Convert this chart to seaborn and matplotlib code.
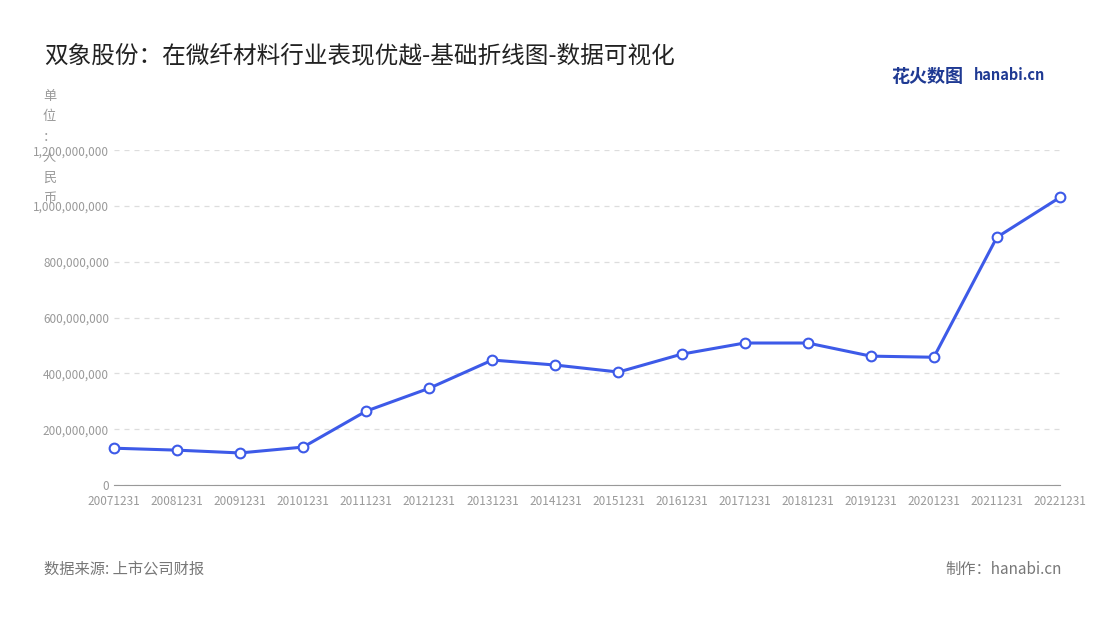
import matplotlib
matplotlib.use("Agg")
import matplotlib.pyplot as plt
import seaborn as sns
import pandas as pd
from matplotlib.ticker import FuncFormatter

sns.set_style("white")
plt.rcParams['font.family'] = ['Noto Sans CJK SC', 'DejaVu Sans']

dates = ["20071231", "20081231", "20091231", "20101231", "20111231", "20121231",
         "20131231", "20141231", "20151231", "20161231", "20171231", "20181231",
         "20191231", "20201231", "20211231", "20221231"]
revenue = [132e6, 125e6, 115e6, 136e6, 265e6, 347e6, 448e6, 430e6, 405e6,
           469e6, 509e6, 509e6, 462e6, 458e6, 888e6, 1031e6]

df = pd.DataFrame({"date": dates, "revenue": revenue})

fig = plt.figure(figsize=(11, 6.2), dpi=100)
ax = fig.add_axes([0.1036, 0.2177, 0.86, 0.54])

sns.lineplot(data=df, x="date", y="revenue", ax=ax, color="#3d5ae8", linewidth=2.2,
             marker="o", markersize=7, markerfacecolor="white",
             markeredgecolor="#3d5ae8", markeredgewidth=1.5, sort=False, clip_on=False)

ax.set_xlim(0, len(dates) - 1)
ax.set_ylim(0, 1.2e9)
ax.set_yticks([i * 2e8 for i in range(7)])
ax.yaxis.set_major_formatter(FuncFormatter(lambda v, p: f"{int(v):,}"))
ax.grid(axis="y", linestyle=(0, (4, 4)), color="#dddddd", linewidth=0.9)
for s in ["top", "right", "left"]:
    ax.spines[s].set_visible(False)
ax.spines["bottom"].set_color("#999999")
ax.tick_params(axis="both", labelsize=8.5, colors="#999999", length=0)
ax.tick_params(axis="x", length=4, color="#999999")
ax.set_xlabel("")
ax.set_ylabel("")

fig.text(0.04, 0.9, "双象股份：在微纤材料行业表现优越-基础折线图-数据可视化",
         fontsize=17, color="#222222")
fig.text(0.81, 0.868, "花火数图", fontsize=13, color="#1f3a93", fontweight="bold")
fig.text(0.885, 0.871, "hanabi.cn", fontsize=10.5, color="#1f3a93", fontweight="bold")
fig.text(0.045, 0.855, "单\n位\n：\n人\n民\n币", fontsize=9.5, color="#999999",
         ha="center", va="top", linespacing=1.75)
fig.text(0.04, 0.075, "数据来源: 上市公司财报", fontsize=11, color="#777777")
fig.text(0.965, 0.075, "制作：hanabi.cn", fontsize=11, color="#777777", ha="right")

fig.savefig("out.png", dpi=100)
